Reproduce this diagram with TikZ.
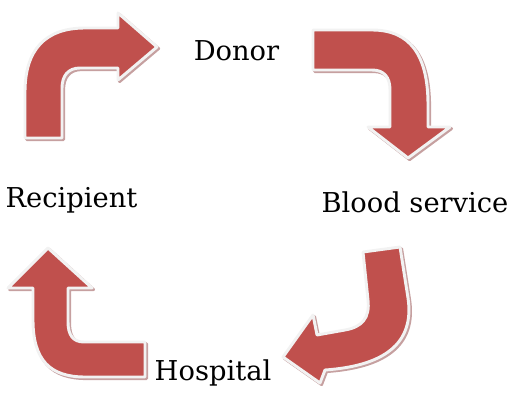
\documentclass[tikz,border=0pt]{standalone}
\usepackage{fontspec}
\setmainfont{DejaVu Serif}
\definecolor{arrowred}{RGB}{192,80,77}
\definecolor{arrowrim}{RGB}{242,242,242}
\definecolor{arrowshade}{RGB}{198,160,160}
\tikzset{
  bent/.style={fill=arrowred, draw=arrowrim, line width=2.2pt, line join=round},
  bentshade/.style={fill=arrowshade, draw=arrowshade, line width=2.2pt, line join=round, shift={(1.6,1.6)}},
  word/.style={font=\fontsize{20.5}{24}\selectfont, anchor=base, inner sep=0pt}
}
\newcommand{\bentarrow}[1]{\path[bentshade] #1; \path[bent] #1;}
\begin{document}
\begin{tikzpicture}[x=0.75pt, y=-0.75pt]
\useasboundingbox (0,0) rectangle (513,392);
% stages
\node[word] (donor) at (236.5,61) {Donor};
\node[word] (service) at (415,212) {Blood service};
\node[word] (hospital) at (213,380) {Hospital};
\node[word] (recipient) at (71.5,207) {Recipient};
% recipient -> donor
\bentarrow{(25,138) -- (25,92) .. controls (25,50) and (45,28) .. (85,28) -- (118,28) -- (118,13) -- (157,47) -- (118,80) -- (118,68) -- (80,68) .. controls (68,68) and (62,76) .. (62,88) -- (62,138) -- cycle}
% donor -> blood service
\bentarrow{(313,30) -- (372,30) .. controls (410,30) and (428,55) .. (428,105) -- (428,127) -- (450,127) -- (408,158) -- (368,127) -- (390,127) -- (390,90) .. controls (390,77) and (384,70) .. (372,70) -- (313,70) -- cycle}
% blood service -> hospital
\bentarrow{(363,252) -- (400,247) -- (408,298) .. controls (415,345) and (382,366) .. (325,370) -- (320,383) -- (283,357) -- (313,315) -- (317,335) -- (345,330) .. controls (362,327) and (370,318) .. (368,300) -- cycle}
% hospital -> recipient
\bentarrow{(145,342) -- (84,342) .. controls (73,342) and (68,335) .. (68,322) -- (68,288) -- (92,288) -- (48,248) -- (8,288) -- (33,288) -- (33,320) .. controls (33,360) and (50,377) .. (85,377) -- (145,377) -- cycle}
\end{tikzpicture}
\end{document}
